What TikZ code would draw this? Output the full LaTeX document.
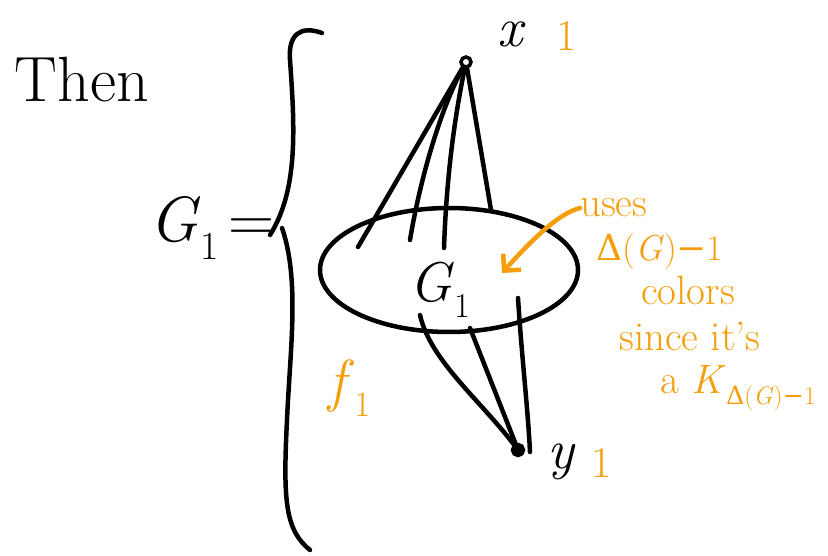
\documentclass[tikz,border=0pt]{standalone}
\usepackage{fontspec}
\usepackage{graphicx}
\newfontfamily\symf{DejaVu Serif}
\newcommand{\sbs}[1]{\raisebox{-0.28em}{\scalebox{0.62}{#1}}}
\newcommand{\dlt}{{\symf Δ}}
\newcommand{\mns}{{\symf −}}
\usetikzlibrary{shapes.geometric,arrows.meta}
\definecolor{ink}{RGB}{0,0,0}
\definecolor{hl}{RGB}{245,158,10}
\begin{document}
\begin{tikzpicture}[x=1pt,y=-1pt,
  stroke/.style={draw=ink,line width=4.5pt,line cap=round,line join=round},
  note/.style={text=hl,inner sep=0pt,font=\fontsize{41}{45}\selectfont},
  vert/.style={circle,draw=ink,line width=3.5pt,minimum size=10pt,inner sep=0pt},
  blacktext/.style={text=ink,inner sep=0pt}]
\useasboundingbox (0,0) rectangle (828,556);
% titles
\node[blacktext,font=\fontsize{64}{70}\selectfont] (then) at (82,80) {Then};
\node[blacktext,font=\fontsize{64}{70}\selectfont] (g1) at (212,228) {\textit{G}\sbs{1}\,=};
% brace
\draw[stroke] (322,33) .. controls (300,25) and (288,35) .. (290,60)
  .. controls (295,130) and (298,190) .. (270,235);
\draw[stroke] (282,228) .. controls (300,280) and (290,350) .. (287,420)
  .. controls (283,500) and (285,530) .. (310,550);
% ellipse
\node[ellipse,stroke,fill=none,minimum width=258pt,minimum height=124pt] (ell) at (449,270) {};
\node[blacktext,font=\fontsize{56}{60}\selectfont] (inner) at (440,290) {\textit{G}\sbs{1}};
% vertices
\node[vert] (x) at (466,62) {};
\node[vert,fill=ink,minimum size=11pt] (y) at (518,450) {};
\node[blacktext,font=\fontsize{56}{60}\selectfont] (xl) at (512,34) {\textit{x}};
\node[text=hl,inner sep=0pt,font=\fontsize{44}{50}\selectfont] (x1) at (567,36) {1};
\node[blacktext,font=\fontsize{56}{60}\selectfont] (yl) at (562,462) {\textit{y}};
\node[text=hl,inner sep=0pt,font=\fontsize{44}{50}\selectfont] (y1) at (602,463) {1};
\node[text=hl,inner sep=0pt,font=\fontsize{58}{64}\selectfont] (f1) at (350,388) {\textit{f}\sbs{1}};
% edge end points
\coordinate (a1) at (358,247);
\coordinate (a2) at (410,240);
\coordinate (a3) at (444,248);
\coordinate (a4) at (491,210);
\coordinate (b1) at (420,315);
\coordinate (b2) at (470,328);
\coordinate (b3) at (518,298);
\coordinate (b3e) at (530,452);
% edges from x
\draw[stroke] (x) -- (a1);
\draw[stroke] (x) .. controls (440,110) and (420,180) .. (a2);
\draw[stroke] (x) .. controls (452,130) and (446,190) .. (a3);
\draw[stroke] (x) -- (a4);
% edges to y
\draw[stroke] (b1) .. controls (430,360) and (480,400) .. (y);
\draw[stroke] (b2) -- (y);
\draw[stroke] (b3) .. controls (522,360) and (528,410) .. (b3e);
% orange note
\node[note,anchor=west] (uses) at (580,208) {uses};
\node[note,font=\fontsize{36}{40}\selectfont] (delta) at (660,252) {\dlt(\textit{G})\mns1};
\node[note] (colors) at (688,290) {colors};
\node[note] (since) at (690,336) {since it's};
\node[note] (aK) at (738,388) {a \textit{K}\sbs{\dlt(\textit{G})\mns1}};
\coordinate (tip) at (502,273);
\draw[draw=hl,line width=4.5pt,line cap=round,line join=round,
  -{Straight Barb[length=12pt,width=24pt,line width=4.5pt]}]
  (uses.west) .. controls (565,212) and (545,225) .. (tip);
\end{tikzpicture}
\end{document}
